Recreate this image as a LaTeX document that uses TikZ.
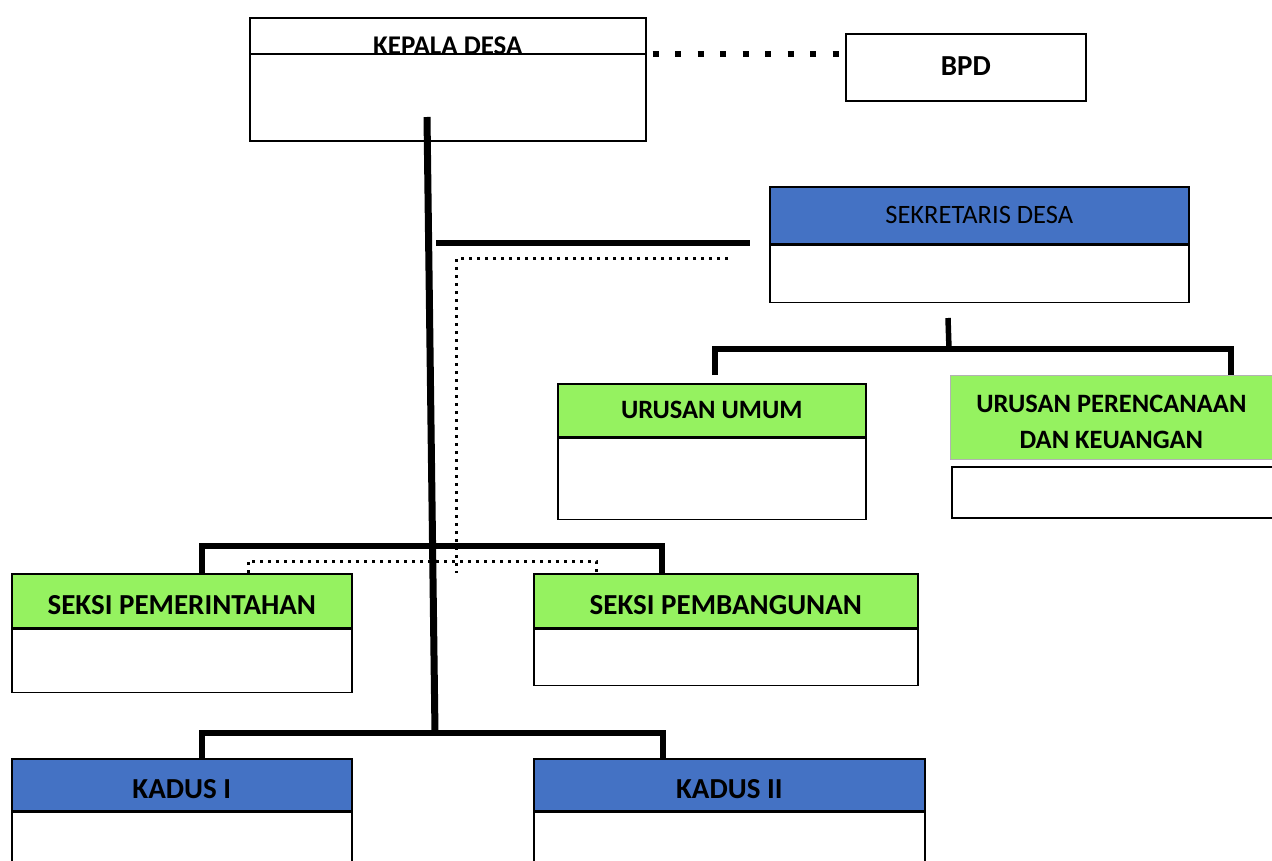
\documentclass[tikz,border=0pt]{standalone}
\usepackage{fontspec}
\setmainfont{Carlito}
\usetikzlibrary{calc}
\usetikzlibrary{positioning}

\definecolor{hdgreen}{RGB}{149,242,96}
\definecolor{hdblue}{RGB}{68,114,196}

\tikzset{
  box/.style={draw=black, line width=1.6pt, anchor=north west, inner sep=0pt},
  hd/.style={box, font=\fontsize{29}{35}\selectfont\bfseries, text height=30pt, text depth=2pt},
  hdsmall/.style={box, font=\fontsize{26.5}{35}\selectfont\bfseries},
  stem/.style={line width=5.5pt},
  bigdots/.style={line width=6pt, dash pattern=on 6pt off 16.5pt},
  smalldots/.style={line width=3pt, dash pattern=on 3pt off 5pt},
}

\begin{document}
\begin{tikzpicture}[x=1pt, y=-1pt]
\path[use as bounding box, clip] (0,0) rectangle (1272,861);

\node[box, minimum width=396, minimum height=123] (kepala) at (249,17) {};
\draw[line width=1.6pt] ($(kepala.north west)+(0,37)$) coordinate (kepalaL) -- ($(kepala.north east)+(0,37)$) coordinate (kepalaR);
\node[anchor=base, inner sep=0pt, font=\fontsize{27}{31}\selectfont\bfseries] (kepalaT) at ($(kepala.north)+(0,38)$) {KEPALA DESA};

\node[hd, minimum width=240, minimum height=67, text height=19pt] (bpd) at (845,33) {BPD};
\draw[bigdots] ($(kepalaR)+(6,0)$) -- (bpd.west |- kepalaR);

\node[box, fill=hdblue, minimum width=419, minimum height=57, font=\fontsize{26.5}{31}\selectfont] (sekH) at (769,186) {SEKRETARIS DESA};
\node[box, minimum width=419, minimum height=57] (sekB) at (sekH.south west) {};

\node[hdsmall, fill=hdgreen, minimum width=308, minimum height=53] (umumH) at (557,383) {URUSAN UMUM};
\node[box, minimum width=308, minimum height=81] (umumB) at (umumH.south west) {};

\node[hdsmall, fill=hdgreen, draw=gray!60, line width=0.8pt, minimum width=330, minimum height=84] (renH) at (950,375) {};
\node[hdsmall, draw=none, anchor=center, align=center] (renT) at ($(renH.center)+(-4,4.5)$) {URUSAN PERENCANAAN\\[1pt]DAN KEUANGAN};
\node[box, minimum width=330, minimum height=51] (renB) at (951,466) {};

\node[hd, fill=hdgreen, minimum width=340, minimum height=54] (pemH) at (11,573) {SEKSI PEMERINTAHAN};
\node[box, minimum width=340, minimum height=63] (pemB) at (pemH.south west) {};

\node[hd, fill=hdgreen, minimum width=384, minimum height=54] (bangH) at (533,573) {SEKSI PEMBANGUNAN};
\node[box, minimum width=384, minimum height=56] (bangB) at (bangH.south west) {};

\node[hd, fill=hdblue, minimum width=340, minimum height=52] (kd1H) at (11,758) {KADUS I};
\node[box, minimum width=340, minimum height=70] (kd1B) at (kd1H.south west) {};

\node[hd, fill=hdblue, minimum width=391, minimum height=52] (kd2H) at (533,758) {KADUS II};
\node[box, minimum width=391, minimum height=70] (kd2B) at (kd2H.south west) {};

\coordinate (top) at (427,117);
\coordinate (kdBar) at (435,733);
\coordinate (sxBar) at (432,546);
\coordinate (sekBar) at (436,243);
\coordinate (urTop) at (948,318);
\coordinate (urBar) at (949,349);

\draw[stem, line width=7pt] (top) -- (kdBar);
\draw[stem] (sekBar) -- (sekBar -| {$(sekH.west)+(-19,0)$});

\draw[stem] ($(umumH.north west)+(158,-8)$) |- (urBar) -| ($(renH.north west)+(281,0)$);
\draw[stem] (urTop) -- (urBar);

\draw[stem] ($(pemH.north west)+(191,0)$) |- (sxBar) -| ($(bangH.north west)+(129,0)$);
\draw[stem] ($(kd1H.north west)+(191,0)$) |- (kdBar) -| ($(kd2H.north west)+(130,0)$);

\draw[smalldots] ($(sekH.south west)+(-41,14)$) -| ($(pemH.north east)+(104,0)$);
\draw[smalldots] ($(pemH.north west)+(237,0)$) |- ($(bangH.north west)+(63,-12)$) -- ($(bangH.north west)+(63,0)$);

\end{tikzpicture}
\end{document}
